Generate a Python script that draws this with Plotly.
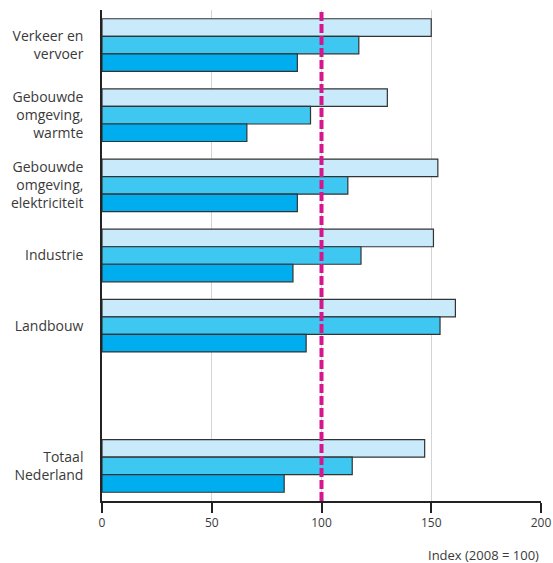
import plotly.graph_objects as go

# categories (a blank slot separates the sectors from the national total)
categories = [
    "Verkeer en<br>vervoer",
    "Gebouwde<br>omgeving,<br>warmte",
    "Gebouwde<br>omgeving,<br>elektriciteit",
    "Industrie",
    "Landbouw",
    " ",
    "Totaal<br>Nederland",
]

series_light = [150, 130, 153, 151, 161, None, 147]
series_mid = [117, 95, 112, 118, 154, None, 114]
series_dark = [89, 66, 89, 87, 93, None, 83]

BASE_INDEX = 100
x_ticks = [0, 50, 100, 150, 200]

COLORS = ["#c8eafb", "#3ec8f1", "#00aeef"]
TEXT = "#3a3a3a"
FONT = "Open Sans"

fig = go.Figure()
for vals, color, name in zip(
    [series_light, series_mid, series_dark], COLORS, ["Reeks 1", "Reeks 2", "Reeks 3"]
):
    fig.add_trace(
        go.Bar(
            y=categories,
            x=vals,
            orientation="h",
            name=name,
            marker=dict(color=color, line=dict(color="#333333", width=1.2)),
        )
    )

# reference line at index = 100
fig.add_shape(
    type="line",
    xref="x",
    yref="paper",
    x0=BASE_INDEX,
    x1=BASE_INDEX,
    y0=0,
    y1=1,
    line=dict(color="#d6168c", width=4, dash="9px,3px"),
    layer="above",
)

fig.add_annotation(
    text="Index (2008 = 100)",
    xref="paper",
    yref="paper",
    x=1.0,
    y=0,
    yshift=-43,
    xanchor="right",
    yanchor="top",
    showarrow=False,
    font=dict(family=FONT, size=13, color=TEXT),
)

fig.update_layout(
    width=553,
    height=563,
    margin=dict(l=102, r=12, t=10, b=62),
    plot_bgcolor="white",
    paper_bgcolor="white",
    barmode="group",
    bargap=0.25,
    bargroupgap=0,
    showlegend=False,
    font=dict(family=FONT, size=14, color=TEXT),
)
fig.update_xaxes(
    range=[0, 200],
    tickvals=x_ticks,
    showgrid=True,
    gridcolor="#d4d4d4",
    gridwidth=1,
    zeroline=False,
    showline=True,
    linecolor="#222222",
    linewidth=1.5,
    ticks="outside",
    ticklen=10,
    tickwidth=1.5,
    tickcolor="#222222",
    tickfont=dict(size=12, color=TEXT),
    automargin=False,
    fixedrange=True,
)
fig.update_yaxes(
    categoryorder="array",
    categoryarray=categories,
    autorange="reversed",
    showgrid=False,
    showline=True,
    linecolor="#222222",
    linewidth=1.5,
    ticks="",
    ticklabelstandoff=14,
    tickfont=dict(size=14, color=TEXT),
    automargin=False,
    fixedrange=True,
)

# drop the default 8px page margin so the figure fills the window exactly
fig.write_html(
    "out.html",
    config={"displayModeBar": False},
    post_script="document.body.style.margin='0';document.body.style.overflow='hidden';",
)
